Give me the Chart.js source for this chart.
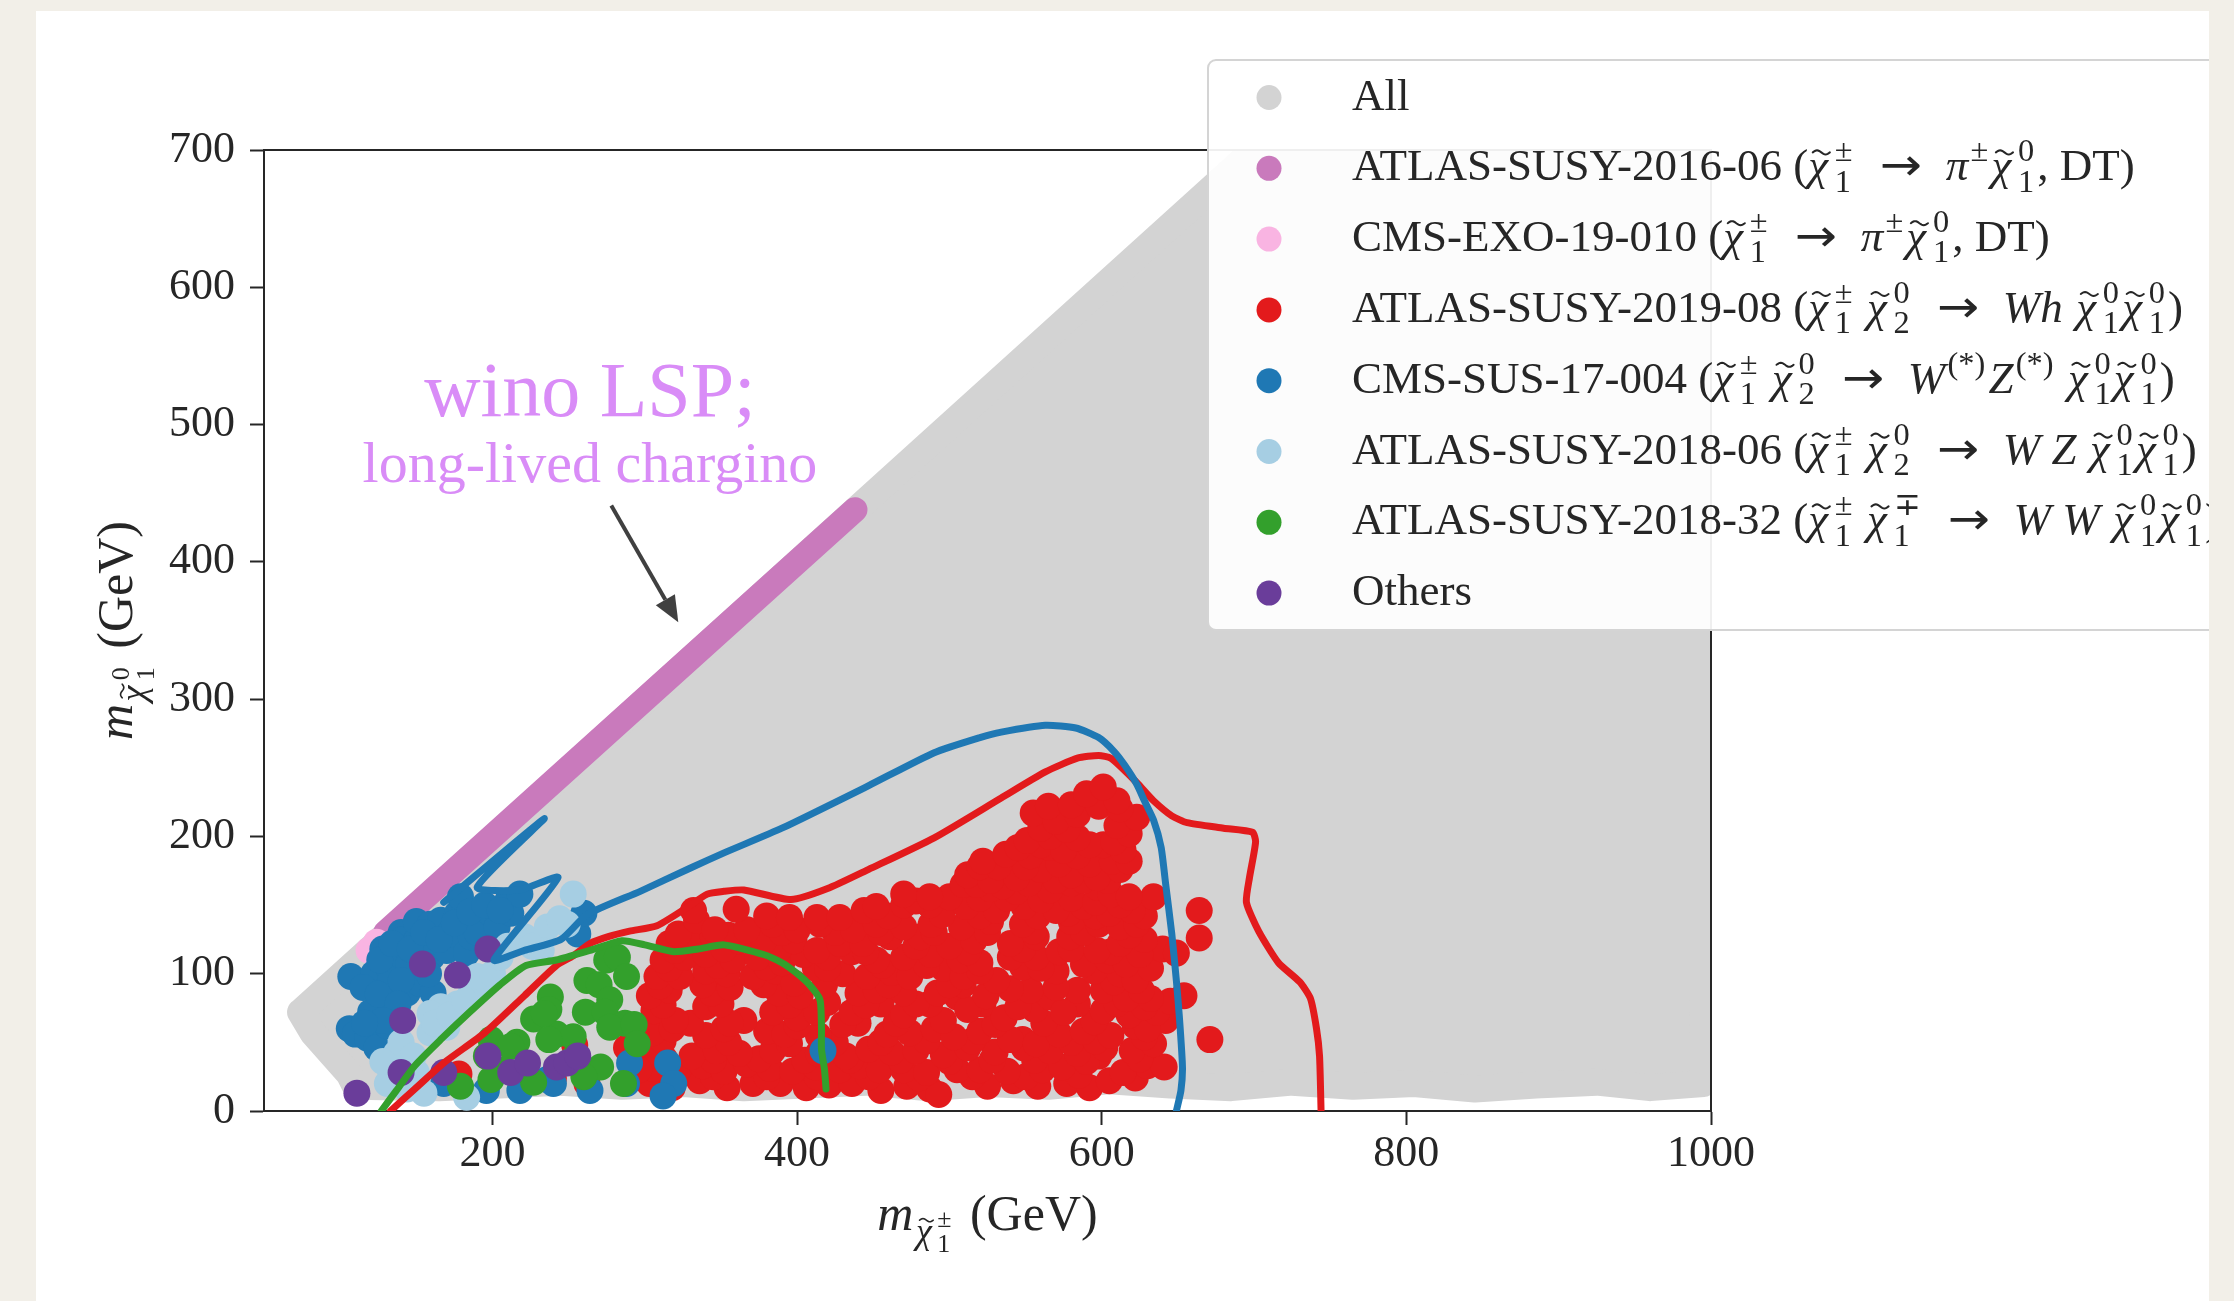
<!DOCTYPE html>
<html><head><meta charset="utf-8">
<script src="https://cdn.jsdelivr.net/npm/chart.js@4.4.0/dist/chart.umd.min.js"></script>
<style>
html,body{margin:0;padding:0;background:#f2efe8;width:2234px;height:1301px;overflow:hidden;}
#card{position:absolute;left:36px;top:11px;width:2173px;height:1290px;background:#fff;overflow:hidden;}
#c{position:absolute;left:-36px;top:-11px;}
</style></head><body>
<div id="card"><canvas id="c" width="2234" height="1301"></canvas></div>
<script>
const FAM = "'Liberation Serif', 'Times New Roman', serif";

// ---------- axes ----------
const xRange = [50, 1000];
const yRange = [0, 700];
const xTicks = [200, 400, 600, 800, 1000];
const yTicks = [0, 100, 200, 300, 400, 500, 600, 700];
const xTitle = "|m|_{|χ̃|_1^±} (GeV)";
const yTitle = "|m|_{|χ̃|_1^0} (GeV)";

// ---------- series names / legend ----------
const seriesNames = ["All","ATLAS-SUSY-2016-06","CMS-EXO-19-010","ATLAS-SUSY-2019-08","CMS-SUS-17-004","ATLAS-SUSY-2018-06","ATLAS-SUSY-2018-32","Others"];
const legendLabels = [
  "All",
  "ATLAS-SUSY-2016-06 (|χ̃|_1^± → |π|^±|χ̃|_1^0, DT)",
  "CMS-EXO-19-010 (|χ̃|_1^± → |π|^±|χ̃|_1^0, DT)",
  "ATLAS-SUSY-2019-08 (|χ̃|_1^± |χ̃|_2^0 → |Wh| |χ̃|_1^0|χ̃|_1^0)",
  "CMS-SUS-17-004 (|χ̃|_1^± |χ̃|_2^0 → |W|^{(*)}|Z|^{(*)} |χ̃|_1^0|χ̃|_1^0)",
  "ATLAS-SUSY-2018-06 (|χ̃|_1^± |χ̃|_2^0 → |W Z| |χ̃|_1^0|χ̃|_1^0)",
  "ATLAS-SUSY-2018-32 (|χ̃|_1^± |χ̃|_1^∓ → |W W| |χ̃|_1^0|χ̃|_1^0)",
  "Others"
];
const seriesColors = ['#d3d3d3','#c97abc','#f9b4e2','#e31a1c','#1f78b4','#a6cee3','#33a02c','#6a3d9a'];

// ---------- "All" scan region (outline of the grey point cloud, point centres) ----------
const allX = [74, 712, 995, 995, 960, 925, 885, 845, 805, 765, 725, 685, 645, 605, 565, 525, 485, 445, 405, 365, 325, 285, 245, 205, 165, 110, 106, 82, 74];
const allY = [72, 712, 712, 20, 17, 21, 19, 16, 20, 18, 21, 17, 19, 22, 18, 20, 17, 21, 19, 17, 20, 18, 21, 19, 17, 18, 27, 57, 72];

// ---------- ATLAS-SUSY-2016-06 (disappearing track band along the diagonal) ----------
const bandX = [130, 438];
const bandY = [130, 438];

// ---------- CMS-EXO-19-010 ----------
const exoPts = [[119,117],[124,123]];

// ---------- ATLAS-SUSY-2019-08 ----------
const redPts = [
 [303,20],[318,17],[336,22],[354,17],[371,20],[389,20],[406,17],[421,19],[436,20],[455,15],[472,18],[487,16],[493,12],[525,18],[542,22],[558,18],[577,20],[592,17],
 [345,25],[380,25],[413,25],[447,25],[480,24],[515,25],[550,25],[585,26],[605,22],[622,24],
 [306,31],[322,30],[338,33],[352,29],[367,34],[382,31],[397,29],[412,32],[428,30],[441,33],[454,30],[470,30],[485,28],[505,30],[520,30],[538,29],[561,30],[574,32],[598,40],[614,28],[630,33],[641,32],
 [313,38],[345,37],[375,38],[405,37],[435,37],[468,37],[500,36],[528,37],[556,37],[590,36],[625,38],
 [304,44],[331,40],[347,44],[362,42],[384,44],[414,42],[432,40],[447,45],[462,43],[478,44],[496,41],[512,46],[530,43],[549,46],[566,44],[584,42],[602,46],[620,44],[634,49],
 [312,51],[355,50],[395,49],[425,50],[455,50],[485,51],[515,51],[548,52],[580,50],[596,51],[628,54],
 [305,57],[318,60],[340,55],[352,60],[380,58],[392,56],[414,55],[440,64],[459,56],[474,57],[490,60],[503,54],[520,58],[540,52],[557,49],[572,56],[588,58],[606,55],[622,62],[642,66],[671,52],
 [330,64],[365,66],[400,62],[430,63],[465,64],[496,66],[530,63],[562,64],[595,65],[630,60],
 [306,73],[320,66],[340,76],[356,64],[384,72],[400,68],[413,72],[436,72],[455,78],[470,70],[487,78],[505,83],[522,78],[536,68],[556,74],[566,83],[584,78],[601,73],[618,70],[636,72],
 [312,77],[350,78],[395,77],[420,79],[445,77],[478,78],[512,74],[545,76],[575,72],[610,78],[628,76],[645,80],
 [303,84],[316,88],[344,86],[356,90],[388,86],[402,84],[440,86],[452,88],[470,86],[492,86],[509,92],[524,84],[553,88],[584,88],[601,88],[616,82],[632,82],[654,84],
 [310,91],[338,92],[378,92],[418,92],[460,92],[500,92],[540,89],[570,90],[608,94],[626,88],
 [308,98],[323,98],[340,102],[354,100],[371,98],[386,102],[398,93],[412,104],[430,100],[446,98],[462,101],[474,98],[496,104],[509,98],[531,95],[548,105],[570,102],[612,100],[622,95],
 [316,104],[348,106],[380,105],[420,104],[456,106],[485,106],[520,102],[560,104],[595,102],[632,104],
 [312,110],[326,112],[340,114],[358,110],[374,112],[390,108],[404,114],[420,112],[436,116],[452,110],[470,112],[488,114],[507,110],[520,108],[540,112],[557,112],[572,116],[588,107],[604,110],[616,107],[640,118],[649,115],
 [320,117],[352,118],[388,118],[445,116],[478,120],[512,116],[548,118],[580,118],[606,116],[625,114],
 [316,122],[330,124],[345,127],[362,124],[378,124],[398,124],[413,117],[428,122],[443,122],[461,127],[481,127],[500,120],[516,124],[540,122],[557,127],[579,127],[597,117],[612,122],[628,125],[664,126],
 [322,129],[355,128],[390,130],[425,130],[455,130],[490,130],[525,130],[555,131],[588,130],[618,128],
 [334,139],[346,132],[367,132],[384,136],[400,132],[415,136],[437,132],[452,136],[470,134],[488,136],[508,134],[527,138],[548,136],[580,138],[598,136],[612,134],[623,136],
 [380,142],[395,141],[460,142],[495,143],[520,142],[558,142],[578,144],[596,142],[628,142],
 [332,146],[360,147],[413,141],[428,141],[444,146],[452,149],[470,150],[487,150],[511,149],[531,146],[549,149],[570,146],[588,149],[605,144],[620,146],[634,156],[664,146],
 [478,153],[500,156],[520,155],[538,155],[560,154],[580,155],[596,152],[612,150],
 [470,158],[487,156],[509,165],[527,162],[544,160],[566,161],[580,166],[597,163],[606,158],[618,156],
 [518,165],[535,164],[552,166],[570,168],[588,168],[604,168],
 [512,172],[527,168],[544,170],[560,176],[580,172],[597,170],[612,176],
 [520,178],[532,178],[550,178],[572,180],[592,180],[607,182],[618,182],
 [522,182],[537,187],[553,186],[566,192],[584,186],[601,194],[614,190],
 [545,192],[560,194],[575,190],[592,194],[608,196],
 [551,197],[566,200],[584,199],[618,202],
 [560,206],[577,205],[610,208],
 [555,217],[570,211],[584,216],[623,214],
 [565,222],[580,223],[598,222],[612,220],
 [590,231],[610,226],[601,236],
 [288,46],[296,30],[262,20],[254,48],[178,27],[240,24]
];

// ---------- CMS-SUS-17-004 ----------
const bluePts = [
 [107,98],[106,60],[110,56],[118,53],[120,72],[124,46],[131,62],[135,71],[122,100],[128,118],[132,104],[137,115],[133,95],
 [140,130],[141,125],[144,86],[145,107],[150,124],[150,138],[152,93],[159,136],[160,112],[161,86],[166,139],[170,117],[172,129],
 [177,144],[179,156],[183,115],[186,127],[190,130],[199,144],[203,134],[210,153],[212,144],[218,158],[256,129],[260,144],
 [126,110],[134,122],[146,118],[155,130],[158,100],[165,125],[175,137],[185,145],[195,150],[205,146],[115,90],[125,85],[140,95],[138,78],[128,66],[116,64],
 [168,20],[196,15],[218,15],[236,23],[240,20],[264,15],[288,20],[290,35],[315,35],[319,20],[312,11],[417,44]
];

// ---------- ATLAS-SUSY-2018-06 ----------
const lightBluePts = [
 [253,158],[249,136],[236,134],[232,117],[221,127],[210,120],[194,93],[186,86],[177,78],[166,76],[159,71],[170,61],[159,57],
 [137,42],[133,30],[131,20],[144,16],[155,13],[183,10],
 [128,36],[140,50],[148,40],[150,28],[162,64],[172,70],[182,80],[190,98],[200,100],[205,112],[226,120],[244,140]
];

// ---------- ATLAS-SUSY-2018-32 ----------
const greenPts = [
 [275,110],[282,112],[262,95],[270,92],[288,98],[277,81],[261,72],[274,72],[287,64],[277,61],[293,63],[295,49],[271,32],[286,20],
 [260,25],[242,56],[253,54],[238,83],[237,74],[227,67],[237,52],[216,50],[196,40],[199,52],[212,47],[206,30],[227,21],[199,23],
 [179,18],[253,38],[234,71]
];

// ---------- Others ----------
const purplePts = [[111,13],[140,28],[154,107],[177,99],[197,118],[141,66],[168,28],[197,40],[212,28],[223,35],[242,32],[249,35],[256,40]];

// ---------- exclusion contours ----------
const redLineX = [133,148,168,195,221,242,253,264,276,290,308,326,341,352,365,396,420,447,490,534,563,584,598,606,616,624,634,646,656,680,699,701,697,695,703,716,730,737,741,743,744];
const redLineY = [0,15,35,57,84,106,113,122,127,131,135,147,158,160,161,154,162,176,199,228,247,257,259,257,247,238,226,215,210,206,203,196,170,152,131,108,94,82,60,40,0];
const blueLineX = [168,234,190,218,243,201,221,245,262,297,330,352,390,447,490,520,534,563,583,598,608,615,623,628,634,639,642,646,649,651,653,652,649];
const blueLineY = [152,213,163,161,170,110,117,125,143,160,177,188,206,237,261,272,276,281,279,272,262,252,238,226,212,192,165,129,95,68,32,15,0];
const greenLineX = [127,137,149,166,185,205,222,242,264,285,300,319,335,352,378,390,399,408,415,416,416,418,419];
const greenLineY = [0,15,33,52,72,92,106,110,117,124,121,116,118,121,114,108,101,92,81,60,45,30,16];

// ---------- annotation ----------
const annoText = ["wino LSP;", "long-lived chargino"];
const annoAt = [[264,506],[264,458]];
const arrowFrom = [278,441];
const arrowTo = [322,356];
const annoColor = '#d98cf7';

// ================= helpers =================
const R = 13.5;
const P = a => a.map(([x,y]) => ({x, y}));
const XY = (xs, ys) => xs.map((x,i) => ({x, y: ys[i]}));
function ptsDs(i, data, order){
  return {label: seriesNames[i], data, backgroundColor: seriesColors[i], borderColor: seriesColors[i],
    pointRadius: R, pointHoverRadius: R, pointBorderWidth: 0, borderWidth: 0, showLine: false, order, clip: 0};
}
function lineDs(label, data, color, width, order, tension){
  return {label, data, showLine: true, borderColor: color, backgroundColor: color, borderWidth: width,
    pointRadius: 0, pointHoverRadius: 0, tension, borderJoinStyle: 'round', borderCapStyle: 'round', fill: false, order, clip: 0};
}

// rich text: |..| italic, _x / _{..} subscript, ^x / ^{..} superscript, U+0303 = tilde accent
function richParse(s){
  let i = 0;
  function group(){
    if (s[i] === '{'){ i++; return seq('}'); }
    let ch = s[i++];
    let tl = false;
    if (s[i] === '\u0303'){ tl = true; i++; }
    return [{type:'t', t: ch, it: false, tilde: tl}];
  }
  function seq(end){
    const out = []; let it = false;
    while (i < s.length){
      const c = s[i];
      if (end && c === end){ i++; break; }
      if (c === '|'){ it = !it; i++; continue; }
      if (c === '_' || c === '^'){
        i++;
        const g = group();
        let last = out[out.length-1];
        if (!last || last.type !== 's' || (c==='_' ? last.sub : last.sup)){ last = {type:'s', sub:null, sup:null}; out.push(last); }
        if (c === '_') last.sub = g; else last.sup = g;
        continue;
      }
      if (s[i+1] === '\u0303'){ out.push({type:'t', t:c, it, tilde:true}); i += 2; continue; }
      if (c === '→'){ out.push({type:'arrow'}); i++; continue; }
      const last = out[out.length-1];
      if (last && last.type === 't' && last.it === it && !last.tilde) last.t += c; else out.push({type:'t', t:c, it});
      i++;
    }
    return out;
  }
  return seq(null);
}
function richDraw(ctx, items, x, y, size, draw){
  const x0 = x;
  for (const it of items){
    if (it.type === 't'){
      ctx.font = (it.it ? 'italic ' : '') + size + 'px ' + FAM;
      const w = ctx.measureText(it.t).width;
      if (draw){
        ctx.fillText(it.t, x, y);
        if (it.tilde){
          const cx = x + w*0.5 + (it.it ? size*0.07 : 0), cy = y - size*0.62, hw = size*0.19, a = size*0.045;
          ctx.save(); ctx.strokeStyle = ctx.fillStyle; ctx.lineWidth = size*0.045; ctx.lineCap = 'round';
          ctx.beginPath();
          for (let k = 0; k <= 16; k++){ const t = -1 + k/8; const px = cx + hw*t, py = cy + a*Math.sin(Math.PI*t); if (k===0) ctx.moveTo(px,py); else ctx.lineTo(px,py); }
          ctx.stroke(); ctx.restore();
        }
      }
      x += w + (it.it ? size*0.05 : 0) + (it.tilde ? size*0.1 : 0);
    } else if (it.type === 'arrow'){
      ctx.font = size + "px 'DejaVu Sans', sans-serif";
      const w = ctx.measureText('→').width;
      if (draw){
        ctx.save(); ctx.translate(x + size*0.28, y); ctx.scale(1.12, 1); ctx.fillText('→', 0, 0); ctx.restore();
      }
      x += w*1.12 + size*0.56;
    } else {
      const ss = size*0.72;
      let w1 = 0, w2 = 0;
      if (it.sub) w1 = richDraw(ctx, it.sub, x, y + size*0.25, ss, draw);
      if (it.sup) w2 = richDraw(ctx, it.sup, x, y - size*0.42, ss, draw);
      x += Math.max(w1, w2) + size*0.07;
    }
  }
  return x - x0;
}

const decor = {
  id: 'decor',
  afterDatasetsDraw(chart){
    const {ctx, chartArea: a, scales: {x, y}} = chart;
    ctx.save();
    ctx.strokeStyle = '#262626'; ctx.lineWidth = 2;
    ctx.beginPath(); ctx.moveTo(a.left, a.top); ctx.lineTo(a.right, a.top); ctx.lineTo(a.right, a.bottom); ctx.stroke();
    ctx.fillStyle = annoColor; ctx.textAlign = 'center'; ctx.textBaseline = 'alphabetic';
    ctx.font = '78px ' + FAM;
    ctx.fillText(annoText[0], x.getPixelForValue(annoAt[0][0]), y.getPixelForValue(annoAt[0][1]));
    ctx.font = '58px ' + FAM;
    ctx.fillText(annoText[1], x.getPixelForValue(annoAt[1][0]), y.getPixelForValue(annoAt[1][1]));
    const x0 = x.getPixelForValue(arrowFrom[0]), y0 = y.getPixelForValue(arrowFrom[1]);
    const x1 = x.getPixelForValue(arrowTo[0]), y1 = y.getPixelForValue(arrowTo[1]);
    const ang = Math.atan2(y1-y0, x1-x0), hl = 26, hw = 11;
    const bx = x1 - hl*Math.cos(ang), by = y1 - hl*Math.sin(ang);
    ctx.strokeStyle = '#404040'; ctx.fillStyle = '#404040'; ctx.lineWidth = 4;
    ctx.beginPath(); ctx.moveTo(x0, y0); ctx.lineTo(bx, by); ctx.stroke();
    ctx.beginPath(); ctx.moveTo(x1, y1);
    ctx.lineTo(bx - hw*Math.sin(ang), by + hw*Math.cos(ang));
    ctx.lineTo(bx + hw*Math.sin(ang), by - hw*Math.cos(ang));
    ctx.closePath(); ctx.fill();
    ctx.restore();
  },
  afterDraw(chart){
    const {ctx, chartArea: a} = chart;
    ctx.save();
    ctx.textAlign = 'left'; ctx.textBaseline = 'alphabetic'; ctx.fillStyle = '#262626';
    const TS = 50;
    const xt = richParse(xTitle);
    const wx = richDraw(ctx, xt, 0, 0, TS, false);
    richDraw(ctx, xt, (a.left + a.right)/2 - wx/2, 1230, TS, true);
    const yt = richParse(yTitle);
    const wy = richDraw(ctx, yt, 0, 0, TS, false);
    ctx.translate(132, (a.top + a.bottom)/2);
    ctx.rotate(-Math.PI/2);
    richDraw(ctx, yt, -wy/2, 0, TS, true);
    ctx.restore();
    // legend
    ctx.save();
    const lx = 1208, ly = 60, lw = 1100, lh = 570, r = 8;
    ctx.beginPath();
    ctx.moveTo(lx + r, ly); ctx.lineTo(lx + lw - r, ly); ctx.arcTo(lx + lw, ly, lx + lw, ly + r, r);
    ctx.lineTo(lx + lw, ly + lh - r); ctx.arcTo(lx + lw, ly + lh, lx + lw - r, ly + lh, r);
    ctx.lineTo(lx + r, ly + lh); ctx.arcTo(lx, ly + lh, lx, ly + lh - r, r);
    ctx.lineTo(lx, ly + r); ctx.arcTo(lx, ly, lx + r, ly, r); ctx.closePath();
    ctx.fillStyle = 'rgba(255,255,255,0.93)'; ctx.fill();
    ctx.strokeStyle = '#d4d4d4'; ctx.lineWidth = 2; ctx.stroke();
    ctx.textAlign = 'left'; ctx.textBaseline = 'alphabetic';
    legendLabels.forEach((lab, i) => {
      const cy = 97.5 + i*70.8;
      ctx.fillStyle = seriesColors[i];
      ctx.beginPath(); ctx.arc(1269, cy, 12.5, 0, Math.PI*2); ctx.fill();
      ctx.fillStyle = '#262626';
      richDraw(ctx, richParse(lab), 1352, cy + 12, 45, true);
    });
    ctx.restore();
  }
};

const grayDs = lineDs(seriesNames[0], XY(allX, allY), seriesColors[0], 2*R, 100, 0);
grayDs.fill = 'shape';

const chart = new Chart(document.getElementById('c'), {
  type: 'scatter',
  data: {
    datasets: [
      grayDs,
      lineDs(seriesNames[1], XY(bandX, bandY), seriesColors[1], 25, 90, 0),
      ptsDs(2, P(exoPts), 85),
      ptsDs(3, P(redPts), 80),
      ptsDs(4, P(bluePts), 70),
      ptsDs(5, P(lightBluePts), 60),
      ptsDs(6, P(greenPts), 50),
      ptsDs(7, P(purplePts), 40),
      lineDs(seriesNames[3] + ' contour', XY(redLineX, redLineY), seriesColors[3], 7, 30, 0.2),
      lineDs(seriesNames[4] + ' contour', XY(blueLineX, blueLineY), seriesColors[4], 7, 20, 0.2),
      lineDs(seriesNames[6] + ' contour', XY(greenLineX, greenLineY), seriesColors[6], 7, 10, 0.2)
    ]
  },
  options: {
    responsive: false, animation: false, devicePixelRatio: 1, events: [],
    layout: {autoPadding: false, padding: {left: 0, top: 150, right: 523, bottom: 0}},
    plugins: {legend: {display: false}, tooltip: {enabled: false}},
    scales: {
      x: {
        type: 'linear', position: 'bottom', min: xRange[0], max: xRange[1],
        afterFit: s => { s.height = 190; },
        afterBuildTicks: s => { s.ticks = xTicks.map(v => ({value: v})); },
        ticks: {font: {family: FAM, size: 44}, color: '#262626', padding: 3, maxRotation: 0, callback: v => String(v)},
        grid: {display: true, drawOnChartArea: false, drawTicks: true, tickLength: 14, tickWidth: 2, tickColor: '#262626'},
        border: {display: true, color: '#262626', width: 2}
      },
      y: {
        type: 'linear', position: 'left', min: yRange[0], max: yRange[1],
        afterFit: s => { s.width = 264; },
        afterBuildTicks: s => { s.ticks = yTicks.map(v => ({value: v})); },
        ticks: {font: {family: FAM, size: 44}, color: '#262626', padding: 15, callback: v => String(v)},
        grid: {display: true, drawOnChartArea: false, drawTicks: true, tickLength: 14, tickWidth: 2, tickColor: '#262626'},
        border: {display: true, color: '#262626', width: 2}
      }
    }
  },
  plugins: [decor]
});
</script></body></html>
